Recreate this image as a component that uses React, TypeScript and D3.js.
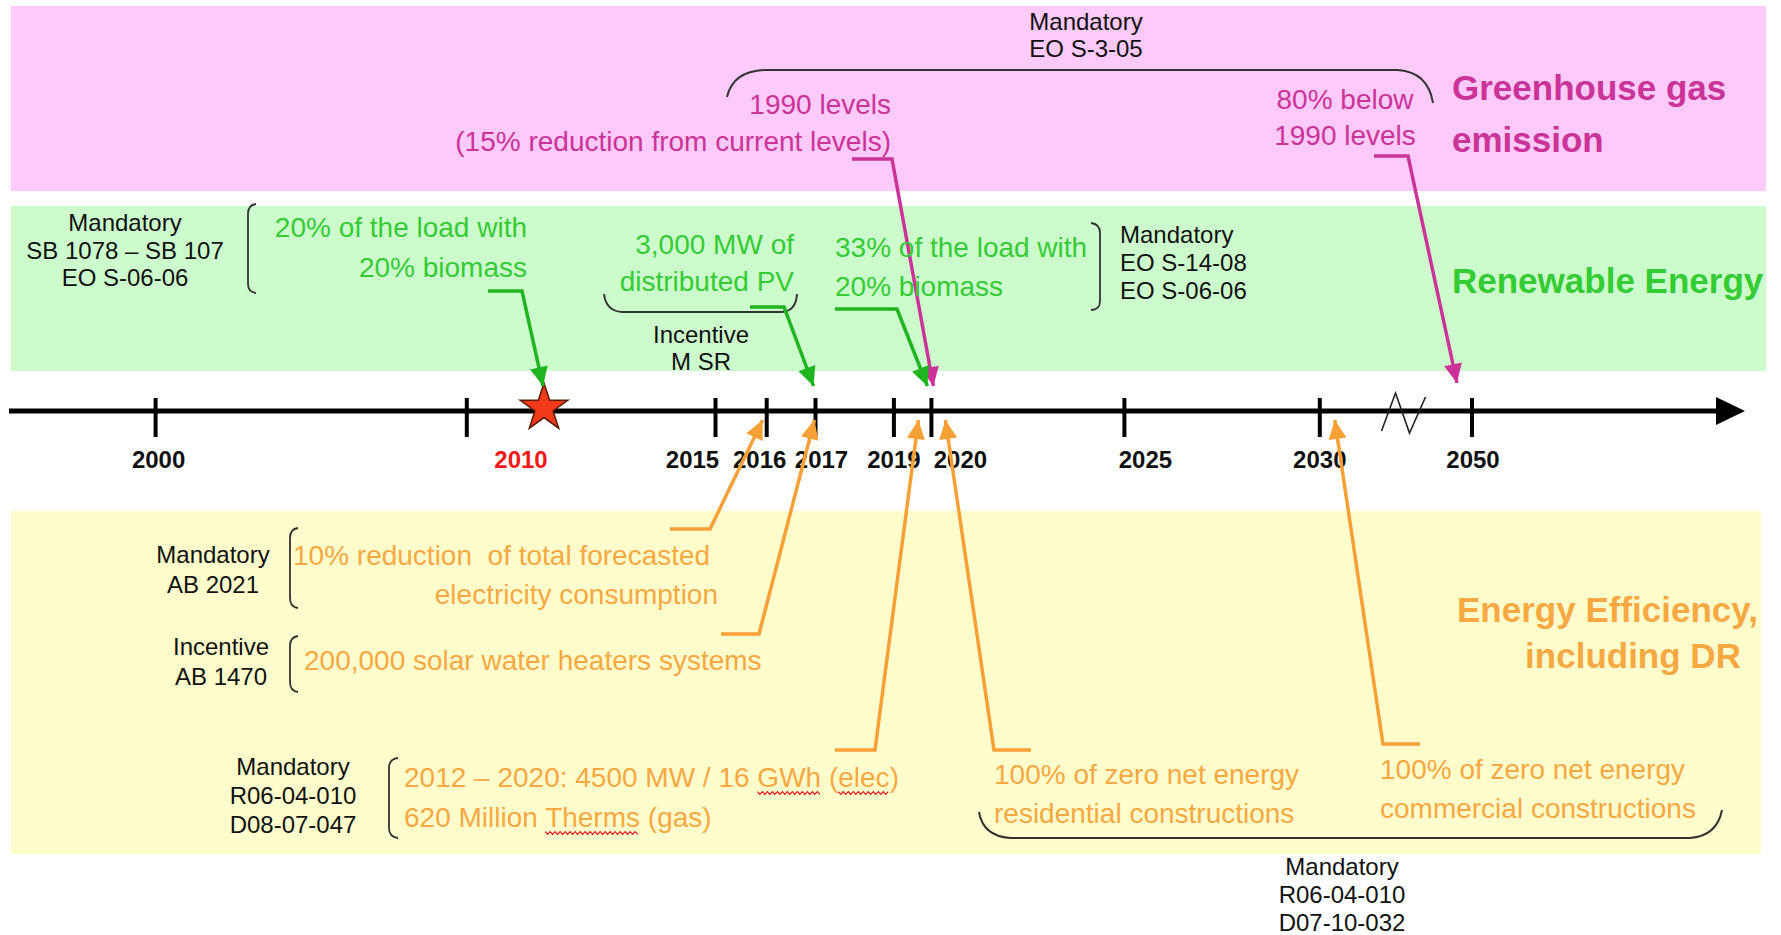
import React, { useLayoutEffect, useRef, useState } from "react";
import * as d3 from "d3";

// ---------- data ----------
const scaleYears = [2000, 2009, 2010, 2015, 2016, 2017, 2019, 2020, 2025, 2030, 2050];
const tickYears = [2000, 2009, 2015, 2016, 2017, 2019, 2020, 2025, 2030, 2050];
const labelYears = [2000, 2010, 2015, 2016, 2017, 2019, 2020, 2025, 2030, 2050];
const labelTexts = ["2000", "2010", "2015", "2016", "2017", "2019", "2020", "2025", "2030", "2050"];
const currentYear = 2010;
const breakYear = 2041;

const ghgTargets = [
  { year: 2020, lines: ["1990 levels", "(15% reduction from current levels)"] },
  { year: 2050, lines: ["80% below", "1990 levels"] },
];
const renewableTargets = [
  { year: 2010, lines: ["20% of the load with", "20% biomass"] },
  { year: 2017, lines: ["3,000 MW of", "distributed PV"] },
  { year: 2020, lines: ["33% of the load with", "20% biomass"] },
];
const efficiencyTargets = [
  { year: 2016, lines: ["10% reduction  of total forecasted", "electricity consumption"] },
  { year: 2017, lines: ["200,000 solar water heaters systems"] },
  { year: 2020, lines: ["2012 – 2020: 4500 MW / 16 GWh (elec)", "620 Million Therms (gas)"] },
  { year: 2020, lines: ["100% of zero net energy", "residential constructions"] },
  { year: 2030, lines: ["100% of zero net energy", "commercial constructions"] },
];
const ghgSource = ["Mandatory", "EO S-3-05"];
const reSource1 = ["Mandatory", "SB 1078 – SB 107", "EO S-06-06"];
const reSource2 = ["Incentive", "M SR"];
const reSource3 = ["Mandatory", "EO S-14-08", "EO S-06-06"];
const eeSource1 = ["Mandatory", "AB 2021"];
const eeSource2 = ["Incentive", "AB 1470"];
const eeSource3 = ["Mandatory", "R06-04-010", "D08-07-047"];
const eeSource4 = ["Mandatory", "R06-04-010", "D07-10-032"];
const categoryNames = { ghg: ["Greenhouse gas", "emission"], re: ["Renewable Energy"], ee: ["Energy Efficiency,", "including DR"] };

// ---------- layout / style ----------
const W = 1781, H = 935;
const AXIS_Y = 411;
const FONT = "'Liberation Sans', Arial, sans-serif";
const C = {
  pink: "#FDCAFB", green: "#CCFCCC", yellow: "#FFFDCB",
  mag: "#CC3399", grn: "#33CC33", grnLine: "#1FB51F", org: "#F8A840", orgLine: "#F7A035",
  black: "#111", brace: "#333",
};
const SMALL = 24;
const MID = 28;
const BIG = 35;
const labelDx = [3, -23, -23, -7, 6, 0, 29, 21, 0, 1];

const x = d3.scaleLinear().domain(scaleYears)
  .range([155.6, 466.8, 544, 715.5, 766.7, 815.5, 893.9, 931.4, 1124.4, 1319.8, 1472]);

const ghgArrows = [
  { sx: 852, ex: 892, y: 159, dx: 2, ty: 386 },
  { sx: 1374, ex: 1408, y: 156, dx: -15, ty: 383 },
];
const reArrows = [
  { sx: 488, ex: 522, y: 291, dx: -1, ty: 386 },
  { sx: 750, ex: 784, y: 307, dx: -2, ty: 386 },
  { sx: 835, ex: 897, y: 309, dx: -4, ty: 386 },
];
const eeArrows = [
  { sx: 670, ex: 710, y: 529, dx: -4, ty: 420 },
  { sx: 721, ex: 759, y: 634, dx: -1, ty: 420 },
  { sx: 835, ex: 875, y: 750, dx: -13, ty: 420 },
  { sx: 1031, ex: 994, y: 750, dx: 14, ty: 420 },
  { sx: 1420, ex: 1383, y: 744, dx: 15, ty: 420 },
];

function Lines({ lines, x0, y0, dy, anchor = "start", size, fill, weight = "normal" }: any) {
  return (
    <text x={x0} y={y0} textAnchor={anchor} fontSize={size} fill={fill} fontWeight={weight} fontFamily={FONT}>
      {lines.map((l: string, i: number) => (
        <tspan key={i} x={x0} y={y0 + i * dy}>{l}</tspan>
      ))}
    </text>
  );
}

function elbow(a: any, year: number) {
  return d3.line()([[a.sx, a.y], [a.ex, a.y], [x(year) + a.dx, a.ty]]) as string;
}

function wave(x0: number, x1: number, y: number) {
  const pts: [number, number][] = [];
  let up = true;
  for (let xx = x0; xx <= x1; xx += 2.5) { pts.push([xx, y + (up ? -1.3 : 1.3)]); up = !up; }
  return d3.line()(pts) as string;
}

export default function App() {
  const star = d3.symbol(d3.symbolStar, 700)() as string;
  const bx = x(breakYear);
  const zig = d3.line()([[bx - 22, AXIS_Y + 20], [bx - 8, AXIS_Y - 18], [bx + 6, AXIS_Y + 22], [bx + 22, AXIS_Y - 14]]) as string;
  const r1 = useRef<any>(null), r2 = useRef<any>(null), r3 = useRef<any>(null);
  const [waves, setWaves] = useState<any[]>([]);
  useLayoutEffect(() => {
    const out: any[] = [];
    [[r1, 787], [r2, 787], [r3, 827]].forEach(([r, y]: any) => {
      const el = r.current;
      if (!el) return;
      const s = el.getStartPositionOfChar(0).x;
      const w = el.getComputedTextLength();
      out.push({ x0: s, x1: s + w, y: y + 6 });
    });
    setWaves(out);
  }, []);
  const marker = (id: string, color: string) => (
    <marker id={id} viewBox="-20 -10 22 20" refX={0} refY={0} markerWidth={22} markerHeight={20}
      markerUnits="userSpaceOnUse" orient="auto">
      <path d="M0,0 L-19,-9 L-19,9 Z" fill={color} />
    </marker>
  );
  return (
    <div style={{ position: "absolute", left: 0, top: 0 }}>
      <svg width={W} height={H} style={{ display: "block", background: "#fff" }}>
        <defs>
          {marker("am", C.mag)}
          {marker("ag", C.grnLine)}
          {marker("ao", C.orgLine)}
        </defs>
        {/* bands */}
        <rect x={11} y={6} width={1755} height={185} fill={C.pink} />
        <rect x={11} y={206} width={1755} height={165} fill={C.green} />
        <rect x={11} y={511} width={1750} height={343} fill={C.yellow} />

        {/* axis */}
        <line x1={9} x2={1722} y1={AXIS_Y} y2={AXIS_Y} stroke="#000" strokeWidth={5} />
        <path d={`M1745,${AXIS_Y} L1716,${AXIS_Y - 14} L1716,${AXIS_Y + 14} Z`} fill="#000" />
        {tickYears.map((yr) => (
          <line key={yr} x1={x(yr)} x2={x(yr)} y1={AXIS_Y - 13} y2={AXIS_Y + 26} stroke="#000" strokeWidth={4} />
        ))}
        <path d={zig} fill="none" stroke="#222" strokeWidth={1.6} />
        {labelYears.map((yr, i) => (
          <text key={yr} x={x(yr) + labelDx[i]} y={468} textAnchor="middle" fontSize={24} fontWeight="bold"
            fontFamily={FONT} fill={yr === currentYear ? "#F01818" : C.black}>{labelTexts[i]}</text>
        ))}
        <path d={star} transform={`translate(${x(currentYear)},${AXIS_Y - 3})`} fill="#F03A1A" stroke="#5A1A00" strokeWidth={1.5} />

        {/* ---------- GHG ---------- */}
        <Lines lines={ghgSource} x0={1086} y0={30} dy={27} anchor="middle" size={SMALL} fill={C.black} />
        <path d="M727,97 Q733,71 765,70 L1398,70 Q1428,72 1433,103" fill="none" stroke={C.brace} strokeWidth={2} />
        <Lines lines={ghgTargets[0].lines} x0={891} y0={114} dy={37} anchor="end" size={MID} fill={C.mag} />
        <Lines lines={ghgTargets[1].lines} x0={1345} y0={109} dy={36} anchor="middle" size={MID} fill={C.mag} />
        <Lines lines={categoryNames.ghg} x0={1452} y0={100} dy={52} size={BIG} fill={C.mag} weight="bold" />
        {ghgTargets.map((t, i) => (
          <path key={i} d={elbow(ghgArrows[i], t.year)} fill="none" stroke={C.mag} strokeWidth={3.5} markerEnd="url(#am)" />
        ))}

        {/* ---------- Renewable ---------- */}
        <Lines lines={reSource1} x0={125} y0={231} dy={27.5} anchor="middle" size={SMALL} fill={C.black} />
        <path d="M256,204 Q248,205 248,214 L248,284 Q248,292 256,293" fill="none" stroke={C.brace} strokeWidth={1.8} />
        <Lines lines={renewableTargets[0].lines} x0={527} y0={237} dy={40} anchor="end" size={MID} fill={C.grn} />
        <Lines lines={renewableTargets[1].lines} x0={794} y0={254} dy={37} anchor="end" size={MID} fill={C.grn} />
        <path d="M604,294 Q606,311 622,312 L782,312 Q796,311 797,294" fill="none" stroke={C.brace} strokeWidth={2} />
        <Lines lines={reSource2} x0={701} y0={343} dy={27} anchor="middle" size={SMALL} fill={C.black} />
        <Lines lines={renewableTargets[2].lines} x0={835} y0={257} dy={39} size={MID} fill={C.grn} />
        <path d="M1091,223 Q1100,224 1100,233 L1100,301 Q1100,310 1091,310" fill="none" stroke={C.brace} strokeWidth={1.8} />
        <Lines lines={reSource3} x0={1120} y0={243} dy={28} size={SMALL} fill={C.black} />
        <Lines lines={categoryNames.re} x0={1452} y0={293} dy={40} size={BIG} fill={C.grn} weight="bold" />
        {renewableTargets.map((t, i) => (
          <path key={i} d={elbow(reArrows[i], t.year)} fill="none" stroke={C.grnLine} strokeWidth={3.5} markerEnd="url(#ag)" />
        ))}

        {/* ---------- Efficiency ---------- */}
        <Lines lines={eeSource1} x0={213} y0={563} dy={30} anchor="middle" size={SMALL} fill={C.black} />
        <path d="M298,528 Q290,529 290,538 L290,598 Q290,607 298,608" fill="none" stroke={C.brace} strokeWidth={1.8} />
        <text fontSize={MID} fill={C.org} fontFamily={FONT} style={{ whiteSpace: "pre" }}>
          <tspan x={293} y={565}>{efficiencyTargets[0].lines[0]}</tspan>
          <tspan x={718} y={604} textAnchor="end">{efficiencyTargets[0].lines[1]}</tspan>
        </text>
        <Lines lines={eeSource2} x0={221} y0={655} dy={30} anchor="middle" size={SMALL} fill={C.black} />
        <path d="M298,636 Q290,637 290,646 L290,682 Q290,691 298,692" fill="none" stroke={C.brace} strokeWidth={1.8} />
        <Lines lines={efficiencyTargets[1].lines} x0={304} y0={670} dy={40} size={MID} fill={C.org} />
        <Lines lines={eeSource3} x0={293} y0={775} dy={29} anchor="middle" size={SMALL} fill={C.black} />
        <path d="M398,758 Q389,759 389,768 L389,828 Q389,837 398,838" fill="none" stroke={C.brace} strokeWidth={1.8} />
        <text fontSize={MID} fill={C.org} fontFamily={FONT} style={{ whiteSpace: "pre" }}>
          <tspan x={404} y={787}>2012 – 2020: 4500 MW / 16 </tspan>
          <tspan ref={r1}>GWh</tspan>
          <tspan> (</tspan>
          <tspan ref={r2}>elec</tspan>
          <tspan>)</tspan>
          <tspan x={404} y={827}>620 Million </tspan>
          <tspan ref={r3}>Therms</tspan>
          <tspan> (gas)</tspan>
        </text>
        {waves.map((w, i) => (
          <path key={i} d={wave(w.x0, w.x1, w.y)} fill="none" stroke="#E5141E" strokeWidth={1.2} />
        ))}
        <Lines lines={efficiencyTargets[3].lines} x0={994} y0={784} dy={39} size={MID} fill={C.org} />
        <Lines lines={efficiencyTargets[4].lines} x0={1380} y0={779} dy={39} size={MID} fill={C.org} />
        <path d="M979,812 Q983,836 1010,838 L1690,838 Q1717,836 1722,810" fill="none" stroke={C.brace} strokeWidth={2} />
        <Lines lines={eeSource4} x0={1342} y0={875} dy={28} anchor="middle" size={SMALL} fill={C.black} />
        <text fontSize={BIG} fontWeight="bold" fill={C.org} fontFamily={FONT}>
          <tspan x={1457} y={622}>{categoryNames.ee[0]}</tspan>
          <tspan x={1633} y={668} textAnchor="middle">{categoryNames.ee[1]}</tspan>
        </text>
        {efficiencyTargets.map((t, i) => (
          <path key={i} d={elbow(eeArrows[i], t.year)} fill="none" stroke={C.orgLine} strokeWidth={3.5} markerEnd="url(#ao)" />
        ))}
      </svg>
    </div>
  );
}
